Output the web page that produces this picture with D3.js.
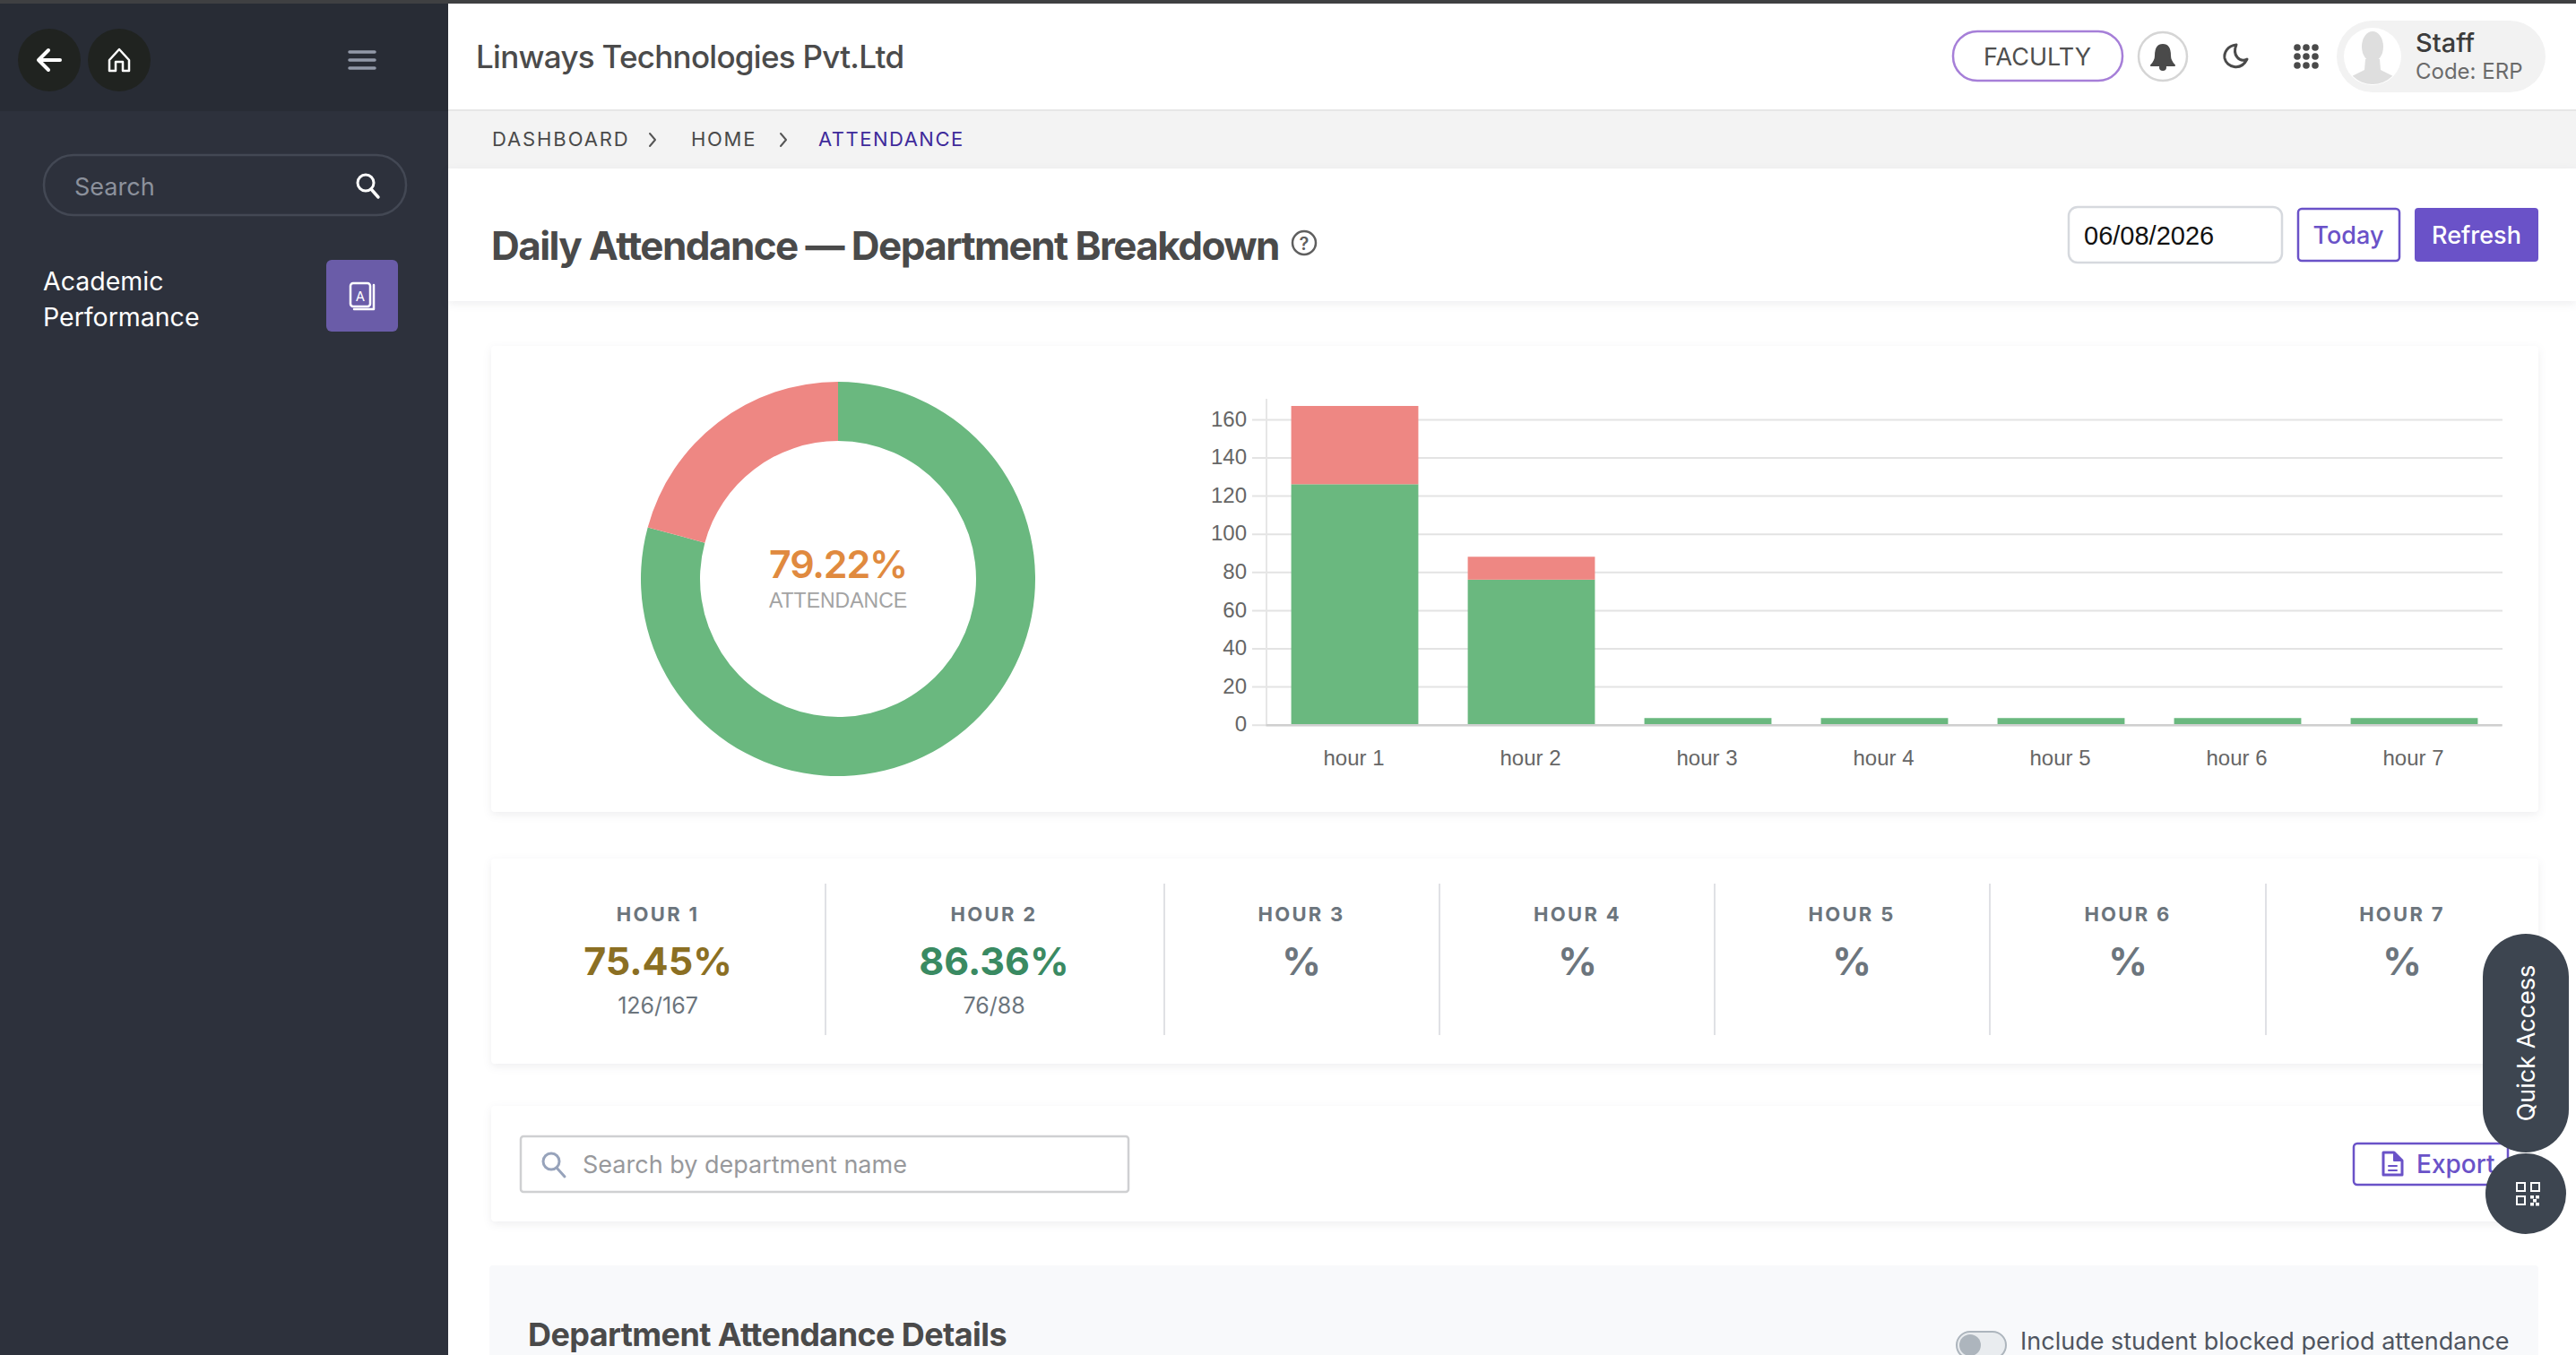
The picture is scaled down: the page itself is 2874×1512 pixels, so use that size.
<!DOCTYPE html>
<html>
<head>
<meta charset="utf-8">
<script src="https://cdn.jsdelivr.net/npm/d3@7"></script>
<style>
  html, body { margin: 0; padding: 0; background: #fff; overflow: hidden; }
  svg { display: block; }
  text { font-family: Inter, sans-serif; }
  .chart text { font-family: "Liberation Sans", sans-serif; }
  .card { filter: drop-shadow(0 3px 5px rgba(40,40,60,.08)); }
</style>
</head>
<body>
<svg id="page" width="2874" height="1512"></svg>
<script>
// chart data
const hourNames = ["hour 1", "hour 2", "hour 3", "hour 4", "hour 5", "hour 6", "hour 7"];
const presentCounts = [126, 76, 3.5, 3.5, 3.5, 3.5, 3.5];
const absentCounts = [41, 12, 0, 0, 0, 0, 0];
const yTicks = [0, 20, 40, 60, 80, 100, 120, 140, 160];
const donutCounts = [202, 53];
const donutColors = ["#6ab87f", "#ee8783"];

// stat strip under the charts
const statLabels = ["HOUR 1", "HOUR 2", "HOUR 3", "HOUR 4", "HOUR 5", "HOUR 6", "HOUR 7"];
const statValues = ["75.45%", "86.36%", "%", "%", "%", "%", "%"];
const statCounts = ["126/167", "76/88", "", "", "", "", ""];
const statColors = ["#8b6f23", "#3a8a62", "#6c757d", "#6c757d", "#6c757d", "#6c757d", "#6c757d"];
const statCenters = [734, 1109, 1452, 1760, 2066, 2374, 2680];
const statDividers = [921, 1299, 1606, 1913, 2220, 2528];

const svg = d3.select("#page");

// helpers so the page furniture stays short
function box(x, y, w, h, fill, opts) {
    opts = opts || {};
    return svg.append("rect").attr("x", x).attr("y", y).attr("width", w).attr("height", h)
        .attr("rx", opts.rx || 0).attr("fill", fill)
        .attr("stroke", opts.stroke || "none").attr("stroke-width", opts.sw || 0)
        .attr("class", opts.cls || null);
}
function label(x, y, str, size, color, opts) {
    opts = opts || {};
    return svg.append("text").attr("x", x).attr("y", y).text(str)
        .attr("font-size", size).attr("fill", color)
        .attr("font-weight", opts.weight || 400)
        .attr("text-anchor", opts.anchor || "start")
        .attr("letter-spacing", opts.spacing || 0);
}
function line(d, color, sw, fill) {
    return svg.append("path").attr("d", d).attr("stroke", color).attr("stroke-width", sw)
        .attr("fill", fill || "none").attr("stroke-linecap", "round").attr("stroke-linejoin", "round");
}
function dot(cx, cy, r, fill, stroke, sw) {
    return svg.append("circle").attr("cx", cx).attr("cy", cy).attr("r", r).attr("fill", fill)
        .attr("stroke", stroke || "none").attr("stroke-width", sw || 0);
}

// top strip and sidebar
box(0, 0, 2874, 4, "#3f4042");
box(0, 4, 500, 1508, "#2d313c");
box(0, 4, 500, 120, "#282c35");
dot(55, 67, 35, "#202320");
dot(133, 67, 35, "#202320");
line("M67 67H44M54 56L43 67L54 78", "#fff", 4);
line("M122 67L133 55L144 67V79H137V69H129V79H122Z", "#fff", 2.5);
line("M390 58H418M390 67H418M390 76H418", "#9299a8", 3.5);
box(49, 173, 404, 67, "none", {rx: 33, stroke: "#434854", sw: 2.5});
label(83, 218, "Search", 27, "#8c919c");
dot(408, 204, 9, "none", "#fff", 3);
line("M414 211L422 220", "#fff", 3.5);
label(48, 324, "Academic", 28.5, "#fff");
label(48, 364, "Performance", 28.5, "#fff");
box(364, 290, 80, 80, "#6a5ca8", {rx: 6});
box(391, 316, 22, 26, "none", {rx: 3, stroke: "#fff", sw: 2.5});
line("M417 318V345H395", "#fff", 2.5);
label(402, 336, "A", 15, "#fff", {anchor: "middle"});

// header and breadcrumb
box(500, 122, 2374, 2, "#e6e6e6");
box(500, 124, 2374, 64, "#f3f3f3");
label(531, 76, "Linways Technologies Pvt.Ltd", 35, "#4b4b4b", {weight: 500, spacing: -0.72});
label(2178 + 95, 73, "FACULTY", 27, "#4f4f4f", {anchor: "middle"});
box(2179, 35, 189, 55, "#fff", {rx: 27, stroke: "#a67fd8", sw: 2.5}).lower();
dot(2413, 63, 27, "#fff", "#d5d5d5", 2.5);
line("M2413 50C2406 50 2405 56 2405 62C2405 68 2402 71 2400 73H2426C2424 71 2421 68 2421 62C2421 56 2420 50 2413 50Z", "#4a4a4a", 2, "#4a4a4a");
dot(2413, 75, 4, "#4a4a4a");
line("M2495 50C2485 51 2481 59 2482 65C2484 75 2500 80 2507 66C2499 70 2490 62 2495 50Z", "#4a4a4a", 3);
[-10, 0, 10].forEach(dy => [-10, 0, 10].forEach(dx => dot(2573 + dx, 63 + dy, 3.8, "#4a4a4a")));
box(2607, 23, 233, 80, "#f2f2f2", {rx: 40});
dot(2647, 63, 32, "#fff");
svg.append("clipPath").attr("id", "avatarClip").append("circle").attr("cx", 2647).attr("cy", 63).attr("r", 31);
svg.append("g").attr("clip-path", "url(#avatarClip)").call(g => {
    g.append("ellipse").attr("cx", 2647).attr("cy", 52).attr("rx", 12).attr("ry", 17).attr("fill", "#dedede");
    g.append("path").attr("d", "M2639 66H2655L2656 78L2680 90V100H2614V90L2638 78Z").attr("fill", "#dedede");
});
label(2695, 58, "Staff", 29, "#3c3c3c", {weight: 500});
label(2695, 88, "Code: ERP", 24, "#6b6b6b");
label(549, 163, "DASHBOARD", 22, "#4a4a4a", {spacing: 1.9});
label(771, 163, "HOME", 22, "#4a4a4a", {spacing: 1.7});
label(913, 163, "ATTENDANCE", 22, "#3f2b9b", {spacing: 1.5});
line("M725 149L731 156L725 163", "#555", 2);
line("M871 149L877 156L871 163", "#555", 2);

// page title bar
box(500, 188, 2374, 148, "#fff", {cls: "card"});
label(548, 290, "Daily Attendance \u2014 Department Breakdown", 44, "#4a4a4a", {weight: 700, spacing: -1.57});
dot(1455, 271, 13, "none", "#5f5f5f", 2.5);
label(1455, 279, "?", 20, "#5f5f5f", {anchor: "middle", weight: 600});
box(2308, 231, 238, 62, "#fff", {rx: 10, stroke: "#d6d9de", sw: 2.5});
label(2325, 273, "06/08/2026", 29, "#111", {spacing: 0}).style("font-family", "'Liberation Sans'");
box(2564, 233, 113, 58, "#fff", {rx: 4, stroke: "#6a52c8", sw: 2.5});
label(2620, 272, "Today", 27, "#6a52c8", {anchor: "middle", weight: 500});
box(2694, 232, 138, 60, "#6a52c8", {rx: 4});
label(2763, 272, "Refresh", 27, "#fff", {anchor: "middle", weight: 500});

// cards
box(548, 386, 2284, 520, "#fff", {rx: 4, cls: "card"});
box(548, 958, 2284, 229, "#fff", {rx: 4, cls: "card"});
box(548, 1234, 2284, 129, "#fff", {rx: 4, cls: "card"});
box(546, 1412, 2286, 120, "#f8f9fb", {rx: 4});

// donut
const donut = svg.append("g").attr("transform", "translate(935,646)");
const pie = d3.pie().sort(null)(donutCounts);
const arc = d3.arc().innerRadius(154).outerRadius(220);
donut.selectAll("path").data(pie).join("path")
    .attr("d", arc)
    .attr("fill", (d, i) => donutColors[i]);
donut.append("text").attr("y", -16).attr("dy", "0.35em").attr("text-anchor", "middle")
    .attr("font-size", 43).attr("font-weight", 600).attr("letter-spacing", -1.2).attr("fill", "#e08a3f")
    .text((donutCounts[0] / d3.sum(donutCounts) * 100).toFixed(2) + "%");
donut.append("text").attr("y", 24).attr("dy", "0.35em").attr("text-anchor", "middle")
    .attr("font-size", 23).attr("fill", "#a3a3a3").style("font-family", "'Liberation Sans'")
    .text("ATTENDANCE");

// stacked bars
const chart = svg.append("g").attr("class", "chart");
const x = d3.scaleBand().domain(hourNames).range([1413, 2792]).paddingInner(0.28).paddingOuter(0.14);
const y = d3.scaleLinear().domain([0, 170]).range([808.7, 446.6]);

const yAxis = d3.axisLeft(y).tickValues(yTicks).tickSize(-1379).tickPadding(22);
const yG = chart.append("g").attr("transform", "translate(1413,0)").call(yAxis);
yG.select(".domain").remove();
yG.selectAll(".tick line").attr("stroke", "#e3e3e3").attr("stroke-width", 2).attr("x1", -16);
yG.selectAll(".tick text").attr("font-size", 24).attr("fill", "#666").attr("dy", "0.3em");
chart.append("line").attr("x1", 1413).attr("x2", 1413).attr("y1", 445).attr("y2", y(0))
    .attr("stroke", "#e6e6e6").attr("stroke-width", 2);

chart.selectAll("rect.present").data(hourNames).join("rect").attr("class", "present")
    .attr("x", d => x(d)).attr("width", x.bandwidth())
    .attr("y", (d, i) => y(presentCounts[i]))
    .attr("height", (d, i) => y(0) - y(presentCounts[i]))
    .attr("fill", donutColors[0]);
chart.selectAll("rect.absent").data(hourNames).join("rect").attr("class", "absent")
    .attr("x", d => x(d)).attr("width", x.bandwidth())
    .attr("y", (d, i) => y(presentCounts[i] + absentCounts[i]))
    .attr("height", (d, i) => y(presentCounts[i]) - y(presentCounts[i] + absentCounts[i]))
    .attr("fill", donutColors[1]);

const xG = chart.append("g").attr("transform", "translate(-1," + y(0) + ")")
    .call(d3.axisBottom(x).tickSize(0).tickPadding(28));
xG.select(".domain").attr("stroke", "#cfcfcf").attr("stroke-width", 2.5);
xG.selectAll(".tick text").attr("font-size", 24).attr("fill", "#666");

// stat strip
statDividers.forEach(d => box(d - 1, 986, 2, 169, "#e0e1e5"));
statLabels.forEach((name, i) => {
    label(statCenters[i], 1028, name, 22, "#6c757d", {anchor: "middle", weight: 700, spacing: 2.3});
    label(statCenters[i], 1088, statValues[i], 43, statColors[i], {anchor: "middle", weight: 700});
    if (statCounts[i]) label(statCenters[i], 1131, statCounts[i], 25, "#6c757d", {anchor: "middle"});
});

// search row
box(581, 1268, 678, 62, "#fff", {rx: 3, stroke: "#cfd0d2", sw: 2.5});
dot(615, 1296, 9, "none", "#97a3bb", 3);
line("M621 1303L630 1313", "#97a3bb", 3);
label(650, 1309, "Search by department name", 27, "#98999c");
box(2626, 1276, 172, 46, "#fff", {rx: 4, stroke: "#6a52c8", sw: 2.5});
line("M2659 1286H2671L2680 1295V1311H2659Z", "#6a52c8", 3);
line("M2671 1286V1295H2680Z", "#6a52c8", 2, "#6a52c8");
line("M2665 1301H2674M2665 1306H2674", "#6a52c8", 2);
label(2696, 1309, "Export", 28, "#6a52c8", {weight: 500});

// details panel
label(589, 1502, "Department Attendance Details", 36, "#4a4a4a", {weight: 700, spacing: -0.6});
box(2183, 1486, 55, 30, "#e9ecef", {rx: 15, stroke: "#adb5bd", sw: 2});
dot(2198, 1501, 12, "#adb5bd");
label(2254, 1506, "Include student blocked period attendance", 27, "#4f5560");

// quick access buttons
box(2770, 1042, 96, 244, "#3d4550", {rx: 48});
svg.append("text").attr("transform", "translate(2828,1164) rotate(-90)")
    .attr("text-anchor", "middle").attr("font-size", 27).attr("fill", "#fff").text("Quick Access");
dot(2818, 1332, 45, "#3d4550");
[[2808, 1320], [2824, 1320], [2808, 1335]].forEach(p => box(p[0], p[1], 9, 9, "none", {stroke: "#fff", sw: 2}));
[[2823, 1334], [2829, 1334], [2826, 1338], [2823, 1342], [2829, 1342]].forEach(p => box(p[0], p[1], 4, 3.5, "#fff"));
</script>
</body>
</html>
